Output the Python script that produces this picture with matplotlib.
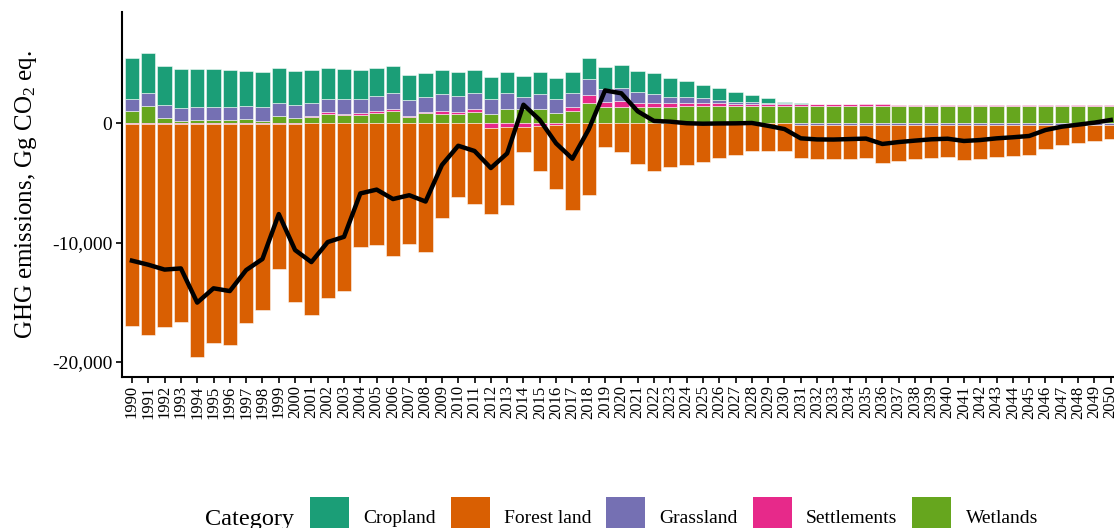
import numpy as np
import matplotlib
matplotlib.use('Agg')
import matplotlib.pyplot as plt
from matplotlib.patches import Patch
from matplotlib.ticker import FuncFormatter

years = list(range(1990, 2051))

# values in Gg CO2 eq.
cropland = [3410, 3330, 3300, 3240, 3220, 3190, 3130, 2960, 2940, 2940,
            2880, 2740, 2630, 2540, 2460, 2320, 2210, 2150, 2010, 2040,
            1990, 1960, 1850, 1820, 1820, 1820, 1790, 1820, 1820, 1900,
            1900, 1760, 1760, 1590, 1340, 1150, 980, 810, 590, 360,
            120, 50, 40, 30, 20, 0, 0, 0, 0, 0,
            0, 0, 0, 0, 0, 0, 0, 0, 0, 0, 0]

forest_land = [-16950, -17710, -17060, -16650, -19580, -18350, -18520, -16670, -15610, -12200,
               -14970, -16080, -14630, -14070, -10380, -10210, -11130, -10100, -10800, -7970,
               -6160, -6800, -7210, -6520, -2140, -3750, -5360, -7300, -6020, -1990,
               -2380, -3410, -4000, -3690, -3500, -3270, -2940, -2630, -2320, -2300,
               -2300, -2830, -2910, -2910, -2860, -2800, -3250, -3030, -2910, -2800,
               -2750, -2940, -2860, -2720, -2630, -2520, -2020, -1740, -1570, -1400, -1180]

grassland = [1060, 1120, 1090, 1090, 1060, 1060, 1060, 1090, 1120, 1060,
             1060, 1090, 1120, 1200, 1200, 1290, 1340, 1310, 1310, 1400,
             1340, 1340, 1230, 1310, 980, 1260, 1200, 1120, 1310, 1030,
             1120, 980, 760, 560, 500, 420, 280, 170, 110, 110,
             80, -100, -100, -100, -100, -100, -100, -100, -100, -100,
             -100, -100, -100, -100, -100, -100, -100, -100, -100, -100, -100]

settlements = [-50, -50, -50, -50, -50, -50, -50, -50, -50, -50,
               -50, 80, 110, 110, 110, 170, 170, 110, 80, 220,
               170, 200, -400, -330, -300, -250, -150, 360, 700, 420,
               480, 280, 280, 280, 220, 220, 220, 200, 200, 170,
               170, 170, 170, 170, 170, 170, 170, 110, 110, 110,
               110, 110, 110, 110, 110, 110, 110, 110, 110, 110, 110]

wetlands = [1010, 1450, 450, 200, 310, 310, 310, 360, 220, 640,
            450, 530, 810, 700, 730, 870, 1060, 500, 840, 810,
            780, 980, 780, 1200, 1200, 1200, 840, 1030, 1680, 1400,
            1400, 1400, 1400, 1400, 1450, 1450, 1450, 1450, 1450, 1450,
            1450, 1450, 1450, 1450, 1450, 1450, 1450, 1450, 1450, 1450,
            1450, 1450, 1450, 1450, 1450, 1450, 1450, 1450, 1450, 1450, 1450]

categories = ['Cropland', 'Forest land', 'Grassland', 'Settlements', 'Wetlands']
colors = ['#1B9E77', '#D95F02', '#7570B3', '#E7298A', '#66A61E']
series = [cropland, forest_land, grassland, settlements, wetlands]

plt.rcParams['font.family'] = ['Liberation Serif', 'DejaVu Serif']
plt.rcParams['mathtext.default'] = 'regular'

W, H = 1114, 528
fig = plt.figure(figsize=(W / 100, H / 100), dpi=100)
ax = fig.add_axes([122 / W, 1 - 377 / H, 1 - 122 / W, (377 - 12) / H])

x = np.array(years)
pos_base = np.zeros(len(x))
neg_base = np.zeros(len(x))
for cat, col, vals in reversed(list(zip(categories, colors, series))):
    v = np.array(vals, dtype=float)
    p = np.where(v > 0, v, 0)
    n = np.where(v < 0, v, 0)
    mp = p > 0
    mn = n < 0
    ax.bar(x[mp], p[mp], bottom=pos_base[mp], width=0.88, color=col,
           edgecolor=(1, 1, 1, 0.6), linewidth=0.6, zorder=2)
    ax.bar(x[mn], n[mn], bottom=neg_base[mn], width=0.88, color=col,
           edgecolor=(1, 1, 1, 0.6), linewidth=0.6, zorder=2)
    pos_base += p
    neg_base += n

net = np.sum(np.array(series, dtype=float), axis=0)
ax.plot(x, net, color='black', lw=3.2, solid_joinstyle='round', zorder=5)

ax.set_xlim(1989.39, 2050.2)
ax.set_ylim(-21280, 9340)
ax.set_xticks(years)
ax.set_xticklabels([str(y) for y in years], rotation=90, fontsize=12)
ax.set_yticks([-20000, -10000, 0])
ax.yaxis.set_major_formatter(FuncFormatter(lambda v, p: f"{int(v):,}"))
ax.tick_params(axis='y', labelsize=14, length=4, width=1.2, pad=3)
ax.tick_params(axis='x', length=4, width=1.2, pad=2)
for s in ['top', 'right']:
    ax.spines[s].set_visible(False)
for s in ['left', 'bottom']:
    ax.spines[s].set_linewidth(1.5)
    ax.spines[s].set_color('black')

fig.text(26 / W, 1 - 194.5 / H, 'GHG emissions, Gg CO$_2$ eq.', rotation=90,
         ha='center', va='center', fontsize=18)

handles = [Patch(facecolor=c, edgecolor='none') for c in colors]
fig.legend(handles, categories, loc='upper left', bbox_to_anchor=(310 / W, 1 - 497 / H),
           ncol=5, frameon=False, fontsize=14, handlelength=2.0, handleheight=2.75,
           handletextpad=0.75, columnspacing=0.75, borderpad=0, borderaxespad=0)
fig.text(205 / W, 1 - 525 / H, 'Category', fontsize=17.5, ha='left', va='baseline')

fig.savefig('out.png', dpi=100)
